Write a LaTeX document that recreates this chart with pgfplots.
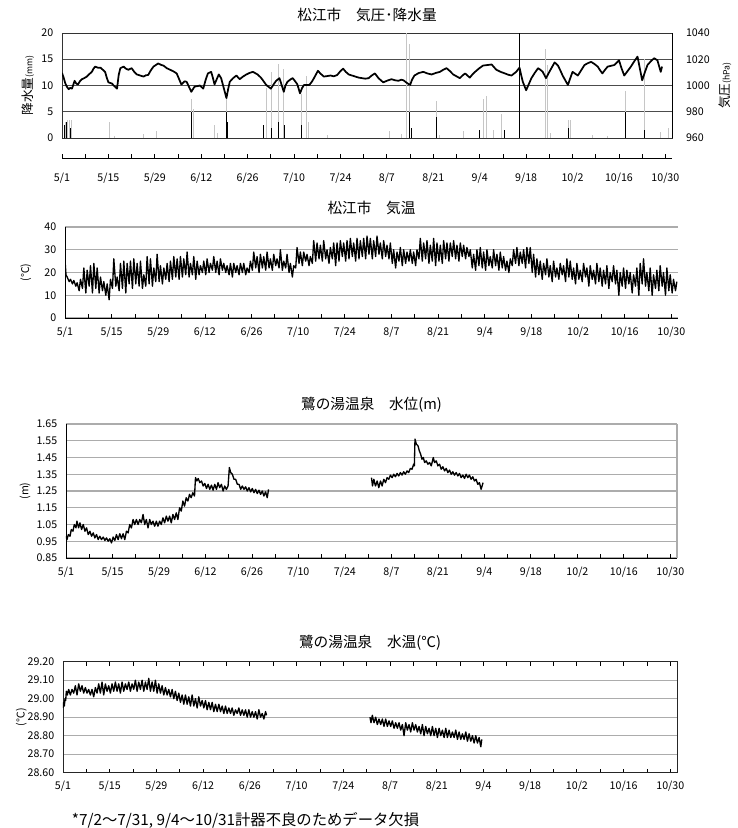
\documentclass[border=0pt]{standalone}
\usepackage{fontspec}
\setmainfont{Noto Sans CJK JP}
\usepackage{pgfplots}
\pgfplotsset{compat=1.18}
\newcommand{\tfont}{\fontsize{11}{12}\selectfont}
\newcommand{\kfont}{\fontsize{8}{9}\selectfont}
\newcommand{\lfont}{\fontsize{9.5}{10}\selectfont}
\newcommand{\sfont}{\fontsize{6.5}{7}\selectfont}
\pgfplotsset{
  base/.style={
    scale only axis, anchor=south west,
    xmin=0, xmax=184,
    /pgf/number format/assume math mode=true,
    /pgf/number format/1000 sep={},
    tick label style={font=\kfont},
    title style={font=\tfont, at={(axis description cs:0.5,1)}, anchor=center},
    scaled y ticks=false,
    ytick style={draw=none},
    yticklabel style={xshift=-3pt},
    ymajorgrids,
    major grid style={gray!65, line width=0.8pt},
  },
  dates/.style={
    xtick={0,14,...,182},
    xticklabels={5/1,5/15,5/29,6/12,6/26,7/10,7/24,8/7,8/21,9/4,9/18,10/2,10/16,10/30},
    minor xtick={7,21,...,175},
    xtick align=inside,
    major tick length=3pt, minor tick length=3pt,
    xtick style={black, line width=0.6pt},
    minor tick style={black, line width=0.6pt},
    xticklabel style={yshift=-3pt},
  },
  ylab/.style={every axis y label/.style={at={(axis description cs:#1,0.5)}, rotate=90, anchor=center, font=\kfont}},
}
\begin{document}
\begin{tikzpicture}
\path[use as bounding box] (0,0) rectangle (553.5pt,-621pt);

% ---------- Panel 1: precipitation (left) ----------
\begin{axis}[base, at={(46.5pt,-103.5pt)}, width=457.5pt, height=78.75pt,
  ymin=0, ymax=20, ytick={0,5,10,15,20}, xtick=\empty,
  major grid style={black!70, line width=0.7pt},
  axis line style={black!80, line width=0.7pt},
  title={松江市\hspace{1em}気圧･降水量}, title style={yshift=7.5pt},
  ylab=-0.056, ylabel={\lfont 降水量{\sfont(mm)}},
]
\addplot[ycomb, gray!45, line width=0.6pt] coordinates {
(0.9,3)(1.5,3.5)(2.2,3.4)(2.7,3.5)(14.3,3.0)(15.8,0.3)(24.6,0.8)(28.6,1.3)
(39,7.4)(39.7,5.5)(46,2.5)(47,1.0)(49.6,7.5)(60.6,2.5)(61.6,9.6)(63.2,12.5)
(65.3,14.1)(66.9,13.1)(72.1,8.3)(73.8,11.9)(74.4,3)(80,0.5)(98.7,1.3)(102.4,0.8)
(103.9,20)(104.9,18)(112.8,7.1)(113.7,0.5)(121,1.3)(125.9,1.5)(127.1,7.4)(127.9,8)
(130.1,1.5)(132.6,4.5)(145.7,17)(146.5,14)(147.2,1)(152.7,3.5)(153.5,3.5)(160,0.5)
(164.5,0.3)(170,9)(175.6,15)(180.6,1.2)(182.9,2.0)};
\addplot[ycomb, black, line width=0.6pt] coordinates {
(0.8,2.5)(1.3,3)(2.5,2)(39,5)(49.5,5)(49.8,3)(60.8,2.5)(63.3,2)(65.4,3)(67,2.5)
(72.2,2.5)(104.9,5)(105.4,2)(112.8,4)(125.9,1.5)(133.4,1.5)(137.9,20)(152.7,2)
(170,5)(175.6,1.5)};
\end{axis}

% ---------- Panel 1: pressure (right) ----------
\begin{axis}[base, at={(46.5pt,-103.5pt)}, width=457.5pt, height=78.75pt,
  ymin=960, ymax=1040, ytick={960,980,...,1040}, ymajorgrids=false,
  axis y line*=right, axis x line=none,
  axis line style={black, line width=0.7pt},
  yticklabel style={xshift=10pt},
  ylab=1.087, ylabel={\lfont 気圧{\sfont(hPa)}},
]
\addplot[black, line width=1.3pt, line join=round] coordinates {
(0,1009.6)(0.5,1006)(1,1001.6)(1.5,999)(2,997.2)(2.5,998.2)(3,997.6)(3.4,1000.5)(3.8,1003.6)(4.3,1001.5)
(4.8,1000.8)(5.4,1003.2)(6,1004.8)(6.7,1005.6)(7.5,1006.8)(8.2,1008.6)(9,1010.4)(9.5,1012.8)(10,1014.4)(10.8,1013.6)
(11.6,1013.6)(12.3,1012)(13,1010.4)(13.5,1006)(14,1002.4)(15,1001.6)(15.8,999.5)(16.6,997.6)(17.1,1008)(17.6,1013.2)
(18.6,1014.4)(19.3,1012.8)(20,1012)(21,1013.2)(21.8,1010.4)(22.6,1008.4)(23.6,1007.6)(24.6,1006.8)(25.3,1007.8)(26,1008)
(26.8,1011.6)(27.6,1014.4)(29,1016.8)(30,1015.6)(30.6,1015.2)(31.6,1013.2)(32.6,1012)(33.6,1010.8)(34.6,1009.2)(35.3,1005)
(36,1000.8)(37,1003.2)(37.6,1002.8)(38.3,999)(39,995.2)(40,999.2)(41,999.6)(41.6,1000)(42.6,997.6)(43.3,1004)
(44,1009.2)(45,1010.4)(45.5,1006)(46,1000.8)(46.7,1005)(47.3,1008.4)(48,1005.6)(48.8,998)(49.6,990.4)(50.1,997)
(50.6,1002.8)(51.6,1005.6)(52.6,1007.6)(53.6,1004.8)(54.6,1006.8)(55.6,1008.4)(56.6,1009.6)(57.6,1010.4)(59,1008.4)(60,1006)
(60.6,1004)(61.6,1000.4)(63,997.6)(64,1001.5)(64.6,1003.6)(65.6,1005.6)(66.3,1000)(66.9,995.2)(67.4,1000)(68,1002.8)
(69,1004.8)(69.6,1005.6)(70.4,1003)(71,1000.8)(71.8,994)(72.4,998)(73,1000.4)(74.6,1000.4)(75.4,1003)(76,1005.6)
(77.2,1011.2)(78,1009)(79,1006.8)(80,1007.2)(81,1007.6)(82,1007)(83,1008)(84,1011)(84.8,1012.8)(85.6,1010.4)
(86.5,1008.4)(87.5,1007.6)(88.5,1006.8)(89.5,1006)(90.5,1005.6)(91.5,1005.2)(92.5,1005.6)(93.4,1007.6)(94.4,1009.2)(95.5,1005.5)
(96.9,1002.4)(98,1003.6)(99.4,1004.8)(100.4,1004)(101.5,1003.6)(102.3,1004.4)(103,1004)(104,1002)(105,1000.4)(105.6,1004.5)
(106.3,1007.6)(107.6,1009.5)(109,1010.4)(110.2,1009.2)(111.5,1008.4)(112.8,1009.6)(114,1010.4)(115,1012)(116,1013.2)(117,1011)
(118,1008.4)(119,1007)(120,1005.6)(120.8,1007.6)(121.6,1009.2)(122.3,1007.6)(123,1006)(123.8,1008.4)(124.6,1010.4)(125.8,1013)
(127,1015.2)(128.3,1015.6)(129.6,1016)(130.3,1014)(131,1012)(132.3,1010.4)(133.6,1009.2)(134.6,1008.2)(135.6,1007.6)(136.3,1009)
(137,1010.4)(137.5,1012)(138,1013.6)(138.5,1008)(139,1002.8)(140,996.4)(140.8,1001)(141.6,1005.6)(142.6,1009.6)(143.6,1013.2)
(144.3,1012)(145,1010.4)(145.5,1008)(146,1005.6)(146.5,1008)(147,1010.4)(147.8,1014)(148.6,1017.6)(149.6,1015.2)(150.3,1011.6)
(151,1007.6)(151.8,1004)(152.6,1000.4)(153.3,1005.5)(154,1010.4)(154.8,1009)(155.6,1007.6)(156.6,1011.6)(157.6,1015.6)(158.6,1017)
(159.6,1018)(160.6,1016.4)(161.6,1014.4)(162.3,1011.6)(163,1009.2)(163.8,1012)(164.6,1014.4)(165.6,1015)(166.6,1015.6)(167.3,1017.4)
(168,1019.2)(168.8,1013)(169.6,1007.6)(170.6,1011)(171.6,1014.4)(172.6,1018.4)(173.6,1022)(174.3,1013)(175,1004)(175.8,1010)
(176.6,1015.6)(177.6,1018.4)(178.6,1020.8)(179.6,1019.2)(180.1,1014.8)(180.6,1010.4)(181,1014.4)};
\end{axis}

% ---------- Panel 1: date axis ----------
\begin{axis}[base, dates, at={(46.5pt,-118.5pt)}, width=457.5pt, height=10pt,
  ymin=0, ymax=1, ytick=\empty, ymajorgrids=false,
  axis x line*=bottom, axis y line=none,
  xticklabel style={yshift=-5pt},
  axis line style={black, line width=0.7pt}]
\end{axis}

% ---------- Panel 2: air temperature ----------
\begin{axis}[base, dates, at={(48.75pt,-238.5pt)}, width=459.75pt, height=68.25pt,
  ymin=0, ymax=40, ytick={0,10,20,30,40},
  axis x line*=bottom, axis y line*=left,
  axis line style={black, line width=0.7pt},
  title={松江市\hspace{1em}気温}, title style={yshift=8pt},
  ylab=-0.064, ylabel={(℃)},
]
\addplot[black, line width=1pt, line join=round] coordinates {
(0,25.5)(0.3,19)(0.65,18)
(1.25,16)(1.65,17)(2.25,15)(2.65,16.5)(3.25,14)(3.65,15.5)(4.25,12)(4.65,17)(5.25,13)(5.65,22)(6.25,11)(6.65,21)(7.25,14)(7.65,23)(8.25,11)(8.65,24)(9.25,13)(9.65,22)
(10.25,11)(10.65,18)(11.25,12)(11.65,16)(12.25,10)(12.65,15)(13.25,8)(13.65,17)(14.25,13)(14.65,26)(15.25,14)(15.65,18)(16.25,12)(16.65,24)(17.25,13)(17.65,25)(18.25,11)(18.65,24)(19.25,15)(19.65,25)
(20.25,13)(20.65,26)(21.25,15)(21.65,24)(22.25,14)(22.65,25)(23.25,13)(23.65,19)(24.25,14)(24.65,27)(25.25,15)(25.65,26)(26.25,14)(26.65,22)(27.25,16)(27.65,28)(28.25,16)(28.65,23)(29.25,15)(29.65,22)
(30.25,17)(30.65,24)(31.25,16)(31.65,25)(32.25,17)(32.65,27)(33.25,18)(33.65,26)(34.25,17)(34.65,27)(35.25,18)(35.65,26)(36.25,19)(36.65,29)(37.25,18)(37.65,24)(38.25,19)(38.65,27)(39.25,17)(39.65,25)
(40.25,19)(40.65,23)(41.25,20)(41.65,25)(42.25,19)(42.65,26)(43.25,20)(43.65,24)(44.25,21)(44.65,27)(45.25,20)(45.65,25)(46.25,19)(46.65,26)(47.25,21)(47.65,24)(48.25,20)(48.65,23)(49.25,19)(49.65,24)
(50.25,18)(50.65,24)(51.25,20)(51.65,23)(52.25,19)(52.65,24)(53.25,20)(53.65,24)(54.25,19)(54.65,22)(55.25,20)(55.65,25)(56.25,21)(56.65,29)(57.25,22)(57.65,27)(58.25,20)(58.65,28)(59.25,22)(59.65,27)
(60.25,21)(60.65,29)(61.25,22)(61.65,26)(62.25,21)(62.65,28)(63.25,23)(63.65,26)(64.25,22)(64.65,30)(65.25,21)(65.65,25)(66.25,22)(66.65,28)(67.25,20)(67.65,24)(68.25,18)(68.65,23)(69.25,22)(69.65,31)
(70.25,24)(70.65,29)(71.25,23)(71.65,29)(72.25,25)(72.65,28)(73.25,23)(73.65,27)(74.25,24)(74.65,34)(75.25,25)(75.65,33)(76.25,26)(76.65,32)(77.25,25)(77.65,34)(78.25,26)(78.65,30)(79.25,24)(79.65,31)
(80.25,26)(80.65,33)(81.25,23)(81.65,33)(82.25,25)(82.65,34)(83.25,27)(83.65,33)(84.25,25)(84.65,34)(85.25,26)(85.65,35)(86.25,27)(86.65,33)(87.25,25)(87.65,35)(88.25,26)(88.65,34)(89.25,27)(89.65,35)
(90.25,26)(90.65,36)(91.25,28)(91.65,35)(92.25,26)(92.65,34)(93.25,27)(93.65,36)(94.25,28)(94.65,33)(95.25,26)(95.65,34)(96.25,27)(96.65,32)(97.25,26)(97.65,33)(98.25,24)(98.65,30)(99.25,22)(99.65,29)
(100.25,25)(100.65,31)(101.25,23)(101.65,30)(102.25,24)(102.65,29)(103.25,25)(103.65,30)(104.25,24)(104.65,29)(105.25,23)(105.65,30)(106.25,26)(106.65,35)(107.25,25)(107.65,33)(108.25,26)(108.65,34)(109.25,24)(109.65,32)
(110.25,25)(110.65,35)(111.25,23)(111.65,33)(112.25,25)(112.65,32)(113.25,24)(113.65,34)(114.25,26)(114.65,33)(115.25,25)(115.65,33)(116.25,27)(116.65,34)(117.25,26)(117.65,32)(118.25,25)(118.65,33)(119.25,27)(119.65,32)
(120.25,26)(120.65,31)(121.25,27)(121.65,30)(122.25,22)(122.65,28)(123.25,21)(123.65,30)(124.25,23)(124.65,31)(125.25,22)(125.65,29)(126.25,21)(126.65,30)(127.25,23)(127.65,27)(128.25,22)(128.65,30)(129.25,23)(129.65,28)
(130.25,21)(130.65,29)(131.25,22)(131.65,27)(132.25,21)(132.65,25)(133.25,20)(133.65,26)(134.25,23)(134.65,30)(135.25,24)(135.65,31)(136.25,23)(136.65,29)(137.25,24)(137.65,30)(138.25,22)(138.65,31)(139.25,24)(139.65,31)
(140.25,20)(140.65,28)(141.25,18)(141.65,26)(142.25,19)(142.65,25)(143.25,17)(143.65,24)(144.25,19)(144.65,26)(145.25,18)(145.65,23)(146.25,16)(146.65,25)(147.25,18)(147.65,22)(148.25,17)(148.65,24)(149.25,19)(149.65,23)
(150.25,16)(150.65,26)(151.25,18)(151.65,25)(152.25,17)(152.65,22)(153.25,15)(153.65,24)(154.25,17)(154.65,21)(155.25,16)(155.65,24)(156.25,18)(156.65,22)(157.25,14)(157.65,23)(158.25,17)(158.65,21)(159.25,15)(159.65,24)
(160.25,16)(160.65,22)(161.25,14)(161.65,21)(162.25,15)(162.65,23)(163.25,13)(163.65,20)(164.25,16)(164.65,23)(165.25,15)(165.65,21)(166.25,10)(166.65,20)(167.25,14)(167.65,22)(168.25,13)(168.65,21)(169.25,15)(169.65,20)
(170.25,11)(170.65,19)(171.25,14)(171.65,22)(172.25,10)(172.65,24)(173.25,15)(173.65,26)(174.25,14)(174.65,20)(175.25,12)(175.65,22)(176.25,10)(176.65,19)(177.25,13)(177.65,21)(178.25,12)(178.65,23)(179.25,14)(179.65,20)
(180.25,10)(180.65,22)(181.25,12)(181.65,19)(182.25,11)(182.65,17)(183.25,12)(183.65,16)};
\end{axis}

% ---------- Panel 3: water level ----------
\begin{axis}[base, dates, at={(49.5pt,-418.5pt)}, width=458.25pt, height=100.5pt,
  ymin=0.85, ymax=1.65, ytick={0.85,0.95,1.05,1.15,1.25,1.35,1.45,1.55,1.65},
  yticklabel style={/pgf/number format/.cd, fixed, fixed zerofill, precision=2},
  axis x line*=bottom, axis y line*=left,
  axis line style={black, line width=0.7pt},
  extra x ticks={184}, extra x tick labels={},
  extra x tick style={grid=major, major tick length=0pt},
  title={鷺の湯温泉\hspace{1em}水位(m)}, title style={yshift=8.25pt},
  ylab=-0.067, ylabel={(m)},
]
\addplot[black, line width=1pt, line join=round] coordinates {
(0,0.98)(0.3,0.96)(0.7,0.99)(1.2,0.98)(1.6,1.02)(2.1,1.01)(2.5,1.05)(3,1.03)(3.3,1.07)(3.8,1.03)(4.2,1.06)(4.7,1.02)(5.2,1.05)(5.7,1.01)(6.2,1.03)(6.7,0.99)(7.2,1.01)(7.7,0.98)(8.2,1.00)(8.7,0.97)
(9.2,0.99)(9.7,0.96)(10.2,0.98)(10.7,0.96)(11.2,0.975)(11.7,0.955)(12.2,0.97)(12.7,0.95)(13.2,0.965)(13.7,0.94)(14.2,0.975)(14.7,0.955)(15.2,0.99)(15.7,0.96)(16.2,0.995)(16.7,0.965)(17.2,0.995)(17.7,0.96)(18.2,1.01)(18.7,1.00)
(19.2,1.05)(19.7,1.03)(20.2,1.08)(20.7,1.05)(21.2,1.08)(21.7,1.05)(22.2,1.08)(22.7,1.06)(23.2,1.11)(23.7,1.05)(24.2,1.08)(24.7,1.03)(25.2,1.08)(25.7,1.05)(26.2,1.07)(26.7,1.04)(27.2,1.07)(27.7,1.04)(28.2,1.07)(28.7,1.05)
(29.2,1.09)(29.7,1.06)(30.2,1.10)(30.7,1.07)(31.2,1.10)(31.7,1.06)(32.2,1.11)(32.7,1.08)(33.2,1.12)(33.7,1.08)(34.2,1.15)(34.7,1.13)(35.2,1.19)(35.7,1.16)(36.2,1.21)(36.7,1.19)(37.2,1.23)(37.7,1.21)(38.2,1.24)(38.7,1.22)
(39,1.33)(39.4,1.31)(39.8,1.325)(40.3,1.30)(40.8,1.31)(41.3,1.28)(41.8,1.295)(42.3,1.265)(42.8,1.29)(43.3,1.26)(43.8,1.285)(44.3,1.255)(44.8,1.29)(45.3,1.26)(45.8,1.30)(46.3,1.27)(46.8,1.29)(47.3,1.25)(47.8,1.28)(48.3,1.26)
(48.8,1.28)(49.2,1.39)(49.6,1.36)(50.1,1.35)(50.6,1.32)(51.1,1.32)(51.6,1.29)(52.1,1.29)(52.6,1.26)(53.1,1.28)(53.6,1.26)(54.1,1.275)(54.6,1.25)(55.1,1.27)(55.6,1.245)(56.1,1.265)(56.6,1.24)(57.1,1.26)(57.6,1.235)(58.1,1.255)
(58.6,1.23)(59.1,1.25)(59.6,1.22)(60.1,1.245)(60.6,1.21)(61,1.26)};
\addplot[black, line width=1pt, line join=round] coordinates {
(92,1.33)(92.3,1.28)(92.7,1.32)(93.2,1.28)(93.7,1.31)(94.2,1.27)(94.7,1.31)(95.2,1.28)(95.7,1.32)(96.2,1.30)(96.7,1.33)(97.2,1.32)(97.7,1.345)(98.2,1.33)(98.7,1.35)(99.2,1.335)(99.7,1.355)(100.2,1.34)(100.7,1.36)(101.2,1.345)
(101.7,1.365)(102.2,1.35)(102.7,1.37)(103.2,1.36)(103.7,1.385)(104.2,1.38)(104.7,1.41)(104.9,1.40)(105.1,1.56)(105.5,1.53)(106,1.52)(106.4,1.49)(106.8,1.47)(107.2,1.44)(107.6,1.45)(108,1.42)(108.5,1.43)(109,1.41)(109.5,1.42)(110,1.40)
(110.6,1.45)(111,1.42)(111.5,1.43)(112,1.40)(112.5,1.41)(113,1.38)(113.5,1.395)(114,1.37)(114.5,1.385)(115,1.36)(115.5,1.375)(116,1.35)(116.5,1.365)(117,1.345)(117.5,1.36)(118,1.34)(118.5,1.355)(119,1.33)(119.5,1.345)(120,1.325)
(120.5,1.35)(121,1.33)(121.5,1.345)(122,1.32)(122.5,1.335)(123,1.31)(123.5,1.32)(124,1.29)(124.5,1.30)(125,1.26)(125.3,1.28)(125.6,1.30)};
\end{axis}

% ---------- Panel 4: water temperature ----------
\begin{axis}[base, dates, at={(47.25pt,-579.5pt)}, width=460.5pt, height=83.25pt,
  ymin=28.6, ymax=29.2, ytick={28.6,28.7,28.8,28.9,29.0,29.1,29.2},
  yticklabel style={/pgf/number format/.cd, fixed, fixed zerofill, precision=2},
  axis line style={black!85, line width=0.7pt},
  title={鷺の湯温泉\hspace{1em}水温(℃)}, title style={yshift=8.5pt},
  ylab=-0.068, ylabel={(℃)},
]
\addplot[black, line width=1pt, line join=round] coordinates {
(0,28.95)(0.2,28.98)(0.4,28.96)(0.6,29.00)(0.8,28.99)(1,29.04)(1.3,29.02)(1.7,29.05)(2.2,29.02)(2.7,29.05)(3.2,29.03)(3.7,29.07)(4.2,29.02)(4.7,29.08)(5.2,29.04)(5.7,29.07)(6.2,29.03)(6.7,29.06)(7.2,29.03)(7.7,29.05)
(8.2,29.02)(8.7,29.05)(9.2,29.01)(9.7,29.06)(10.2,29.03)(10.7,29.08)(11.2,29.03)(11.7,29.09)(12.2,29.02)(12.7,29.08)(13.2,29.04)(13.7,29.07)(14.2,29.03)(14.7,29.08)(15.2,29.04)(15.7,29.09)(16.2,29.04)(16.7,29.08)(17.2,29.03)(17.7,29.09)
(18.2,29.04)(18.7,29.08)(19.2,29.05)(19.7,29.09)(20.2,29.04)(20.7,29.08)(21.2,29.05)(21.7,29.10)(22.2,29.04)(22.7,29.09)(23.2,29.05)(23.7,29.10)(24.2,29.04)(24.7,29.09)(25.2,29.05)(25.7,29.11)(26.2,29.04)(26.7,29.09)(27.2,29.04)(27.7,29.10)
(28.2,29.03)(28.7,29.08)(29.2,29.03)(29.7,29.07)(30.2,29.02)(30.7,29.06)(31.2,29.02)(31.7,29.05)(32.2,29.01)(32.7,29.05)(33.2,29.00)(33.7,29.04)(34.2,28.99)(34.7,29.03)(35.2,28.98)(35.7,29.02)(36.2,28.97)(36.7,29.02)(37.2,28.97)(37.7,29.01)
(38.2,28.96)(38.7,29.02)(39.2,28.96)(39.7,29.00)(40.2,28.95)(40.7,29.01)(41.2,28.96)(41.7,28.99)(42.2,28.95)(42.7,28.99)(43.2,28.94)(43.7,28.98)(44.2,28.94)(44.7,28.98)(45.2,28.93)(45.7,28.97)(46.2,28.93)(46.7,28.97)(47.2,28.93)(47.7,28.96)
(48.2,28.92)(48.7,28.96)(49.2,28.92)(49.7,28.95)(50.2,28.92)(50.7,28.95)(51.2,28.91)(51.7,28.94)(52.2,28.92)(52.7,28.95)(53.2,28.91)(53.7,28.94)(54.2,28.91)(54.7,28.94)(55.2,28.90)(55.7,28.94)(56.2,28.90)(56.7,28.93)(57.2,28.90)(57.7,28.93)
(58.2,28.89)(58.7,28.94)(59.2,28.90)(59.7,28.92)(60.2,28.89)(60.7,28.93)(61,28.91)};
\addplot[black, line width=1pt, line join=round] coordinates {
(92,28.90)(92.3,28.87)(92.7,28.91)(93.2,28.87)(93.7,28.90)(94.2,28.86)(94.7,28.89)(95.2,28.86)(95.7,28.89)(96.2,28.85)(96.7,28.89)(97.2,28.85)(97.7,28.88)(98.2,28.85)(98.7,28.88)(99.2,28.84)(99.7,28.87)(100.2,28.84)(100.7,28.87)(101.2,28.83)
(101.7,28.86)(102.2,28.80)(102.7,28.87)(103.2,28.83)(103.7,28.86)(104.2,28.82)(104.7,28.87)(105.2,28.83)(105.7,28.86)(106.2,28.82)(106.7,28.85)(107.2,28.81)(107.7,28.86)(108.2,28.80)(108.7,28.85)(109.2,28.81)(109.7,28.84)(110.2,28.80)(110.7,28.85)(111.2,28.80)
(111.7,28.84)(112.2,28.79)(112.7,28.84)(113.2,28.80)(113.7,28.83)(114.2,28.79)(114.7,28.84)(115.2,28.79)(115.7,28.83)(116.2,28.79)(116.7,28.82)(117.2,28.79)(117.7,28.83)(118.2,28.78)(118.7,28.82)(119.2,28.78)(119.7,28.81)(120.2,28.78)(120.7,28.82)(121.2,28.77)
(121.7,28.81)(122.2,28.77)(122.7,28.80)(123.2,28.76)(123.7,28.80)(124.2,28.76)(124.7,28.79)(125.2,28.74)(125.5,28.78)};
\end{axis}

\node[anchor=west, font=\fontsize{11.5}{12}\selectfont, inner sep=0pt] at (53.75pt,-615pt) {*7/2〜7/31, 9/4〜10/31計器不良のためデータ欠損};
\end{tikzpicture}
\end{document}
